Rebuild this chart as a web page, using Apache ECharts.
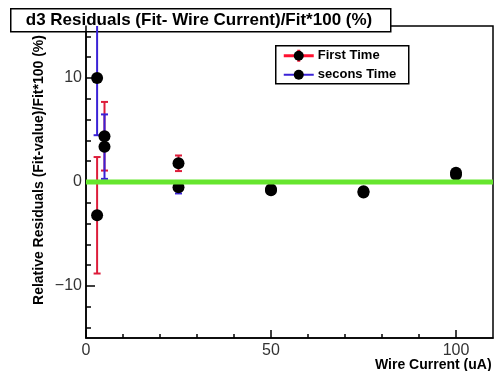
<!DOCTYPE html>
<html>
<head>
<meta charset="utf-8">
<script src="https://cdn.jsdelivr.net/npm/echarts@6/dist/echarts.min.js"></script>
<style>
  html, body { margin: 0; padding: 0; background: #fff; }
  #chart { width: 495px; height: 371px; }
</style>
</head>
<body>
<div id="chart"></div>
<script>
// wire current points
const xVals = [3, 5, 25, 50, 75, 100];
// first time residuals and errors
const firstVals = [-3.2, 4.4, 1.8, -0.7, -0.9, 0.9];
const firstErr = [5.6, 3.3, 0.75, 0.3, 0.3, 0.3];
// second time residuals and errors
const secondVals = [10.0, 3.4, -0.5, -0.8, -1.0, 0.7];
const secondErr = [5.5, 3.1, 0.6, 0.3, 0.3, 0.3];
// flat fit at zero
const fitX = [0, 110];
const fitY = [0, 0];
// ticks
const xLabelVals = [0, 50, 100];
const xMinorVals = [0, 10, 20, 30, 40, 50, 60, 70, 80, 90, 100];
const yLabelVals = [-10, 0, 10];
const yMinorVals = [-14, -12, -10, -8, -6, -4, -2, 0, 2, 4, 6, 8, 10, 12, 14];

const RED = '#dd1c3a';
const BLUE = '#3a22d6';
const FONT = 'Liberation Sans, Arial, sans-serif';

const errorBars = (color) => function(params, api) {
    const x = api.value(0), y = api.value(1), e = api.value(2);
    const top = api.coord([x, y + e]);
    const bot = api.coord([x, y - e]);
    const cw = 3.5;
    const st = {stroke: color, lineWidth: 2};
    return {
        type: 'group',
        children: [
            {type: 'line', shape: {x1: top[0], y1: top[1], x2: bot[0], y2: bot[1]}, style: st},
            {type: 'line', shape: {x1: top[0] - cw, y1: top[1], x2: top[0] + cw, y2: top[1]}, style: st},
            {type: 'line', shape: {x1: bot[0] - cw, y1: bot[1], x2: bot[0] + cw, y2: bot[1]}, style: st}
        ]
    };
};

const chart = echarts.init(document.getElementById('chart'));

const axisCommon = {
    type: 'value',
    splitLine: {show: false},
    axisLine: {show: true, onZero: false, lineStyle: {color: '#000', width: 1.5}}
};

chart.setOption({
    animation: false,
    grid: {
        left: 86, right: 2, top: 26, bottom: 33,
        containLabel: false, outerBoundsMode: 'none',
        show: true, borderColor: '#000', borderWidth: 1.5, backgroundColor: '#fff'
    },
    xAxis: [
        Object.assign({}, axisCommon, {
            min: 0, max: 110, interval: 10,
            name: 'Wire Current (uA)',
            nameLocation: 'end',
            nameGap: -118,
            nameMoveOverlap: false,
            nameTextStyle: {
                fontFamily: FONT, fontWeight: 'bold', fontSize: 14, color: '#000',
                align: 'left', verticalAlign: 'top', padding: [20, 0, 0, 0]
            },
            axisTick: {inside: true, length: 4, customValues: xMinorVals, lineStyle: {color: '#000', width: 1.5}},
            axisLabel: {
                customValues: xLabelVals, margin: 5,
                fontFamily: FONT, fontSize: 16, color: '#333'
            }
        }),
        Object.assign({}, axisCommon, {
            min: 0, max: 110, interval: 10, position: 'bottom',
            axisLine: {show: false, onZero: false},
            axisTick: {inside: true, length: 8, customValues: xLabelVals, lineStyle: {color: '#000', width: 1.5}},
            axisLabel: {show: false}
        })
    ],
    yAxis: [
        Object.assign({}, axisCommon, {
            min: -15, max: 15,
            name: 'Relative Residuals (Fit-value)/Fit*100 (%)',
            nameLocation: 'middle',
            nameGap: 40,
            nameMoveOverlap: false,
            nameTextStyle: {
                fontFamily: FONT, fontWeight: 'bold', fontSize: 14, color: '#000',
                padding: [0, 0, 0, 24]
            },
            axisTick: {inside: true, length: 5, customValues: yMinorVals, lineStyle: {color: '#000', width: 1.5}},
            axisLabel: {
                customValues: yLabelVals, margin: 4,
                fontFamily: FONT, fontSize: 16, color: '#333',
                formatter: (v) => v < 0 ? '\u2212' + Math.abs(v) : String(v)
            }
        }),
        Object.assign({}, axisCommon, {
            min: -15, max: 15, position: 'left',
            axisLine: {show: false, onZero: false},
            axisTick: {inside: true, length: 9, customValues: yLabelVals, lineStyle: {color: '#000', width: 1.5}},
            axisLabel: {show: false}
        })
    ],
    series: [
        {
            name: 'First Time err',
            type: 'custom',
            clip: true,
            renderItem: errorBars(RED),
            encode: {x: 0, y: 1},
            data: xVals.map((x, i) => [x, firstVals[i], firstErr[i]]),
            z: 2
        },
        {
            name: 'secons Time err',
            type: 'custom',
            clip: true,
            renderItem: errorBars(BLUE),
            encode: {x: 0, y: 1},
            data: xVals.map((x, i) => [x, secondVals[i], secondErr[i]]),
            z: 2
        },
        {
            name: 'First Time',
            type: 'scatter',
            symbol: 'circle',
            symbolSize: 12,
            itemStyle: {color: '#000', opacity: 1},
            data: xVals.map((x, i) => [x, firstVals[i]]),
            z: 3
        },
        {
            name: 'secons Time',
            type: 'scatter',
            symbol: 'circle',
            symbolSize: 12,
            itemStyle: {color: '#000', opacity: 1},
            data: xVals.map((x, i) => [x, secondVals[i]]),
            z: 3
        },
        {
            name: 'fit',
            type: 'line',
            symbol: 'none',
            lineStyle: {color: '#66e62e', width: 5},
            data: fitX.map((x, i) => [x, fitY[i]]),
            z: 4
        }
    ],
    graphic: [
        {
            type: 'group', left: 10, top: 8, z: 100,
            children: [
                {type: 'rect', shape: {x: 0, y: 0, width: 380, height: 23},
                 style: {fill: '#fff', stroke: '#000', lineWidth: 1.5}},
                {type: 'text', x: 15, y: 12,
                 style: {text: 'd3 Residuals (Fit- Wire Current)/Fit*100 (%)', fill: '#000',
                         font: 'bold 17px ' + FONT, verticalAlign: 'middle'}}
            ]
        },
        {
            type: 'group', left: 275, top: 45, z: 100,
            children: [
                {type: 'rect', shape: {x: 0, y: 0, width: 133, height: 38},
                 style: {fill: '#fff', stroke: '#000', lineWidth: 1.5}},
                {type: 'line', shape: {x1: 8, y1: 10, x2: 38, y2: 10}, style: {stroke: '#ff1030', lineWidth: 3}},
                {type: 'line', shape: {x1: 23, y1: 4, x2: 23, y2: 16}, style: {stroke: '#ff1030', lineWidth: 3}},
                {type: 'circle', shape: {cx: 23, cy: 10, r: 5}, style: {fill: '#000'}},
                {type: 'text', x: 42, y: 10,
                 style: {text: 'First Time', fill: '#000', font: 'bold 13px ' + FONT, verticalAlign: 'middle'}},
                {type: 'line', shape: {x1: 8, y1: 29, x2: 38, y2: 29}, style: {stroke: BLUE, lineWidth: 2}},
                {type: 'circle', shape: {cx: 23, cy: 29, r: 5}, style: {fill: '#000'}},
                {type: 'text', x: 42, y: 29,
                 style: {text: 'secons Time', fill: '#000', font: 'bold 13px ' + FONT, verticalAlign: 'middle'}}
            ]
        }
    ]
});
</script>
</body>
</html>
